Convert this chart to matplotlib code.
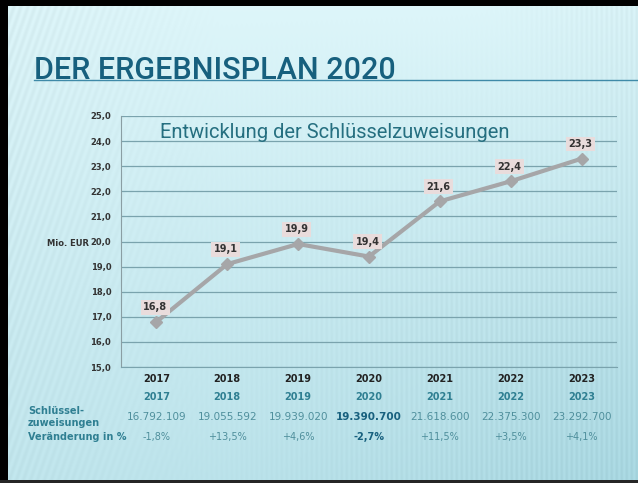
import matplotlib.pyplot as plt
import matplotlib.transforms as mtransforms
import numpy as np

# Schlüsselzuweisungen, Mio. EUR
years = ['2017', '2018', '2019', '2020', '2021', '2022', '2023']
values_mio = [16.8, 19.1, 19.9, 19.4, 21.6, 22.4, 23.3]
values_eur = ['16.792.109', '19.055.592', '19.939.020', '19.390.700',
              '21.618.600', '22.375.300', '23.292.700']
changes = ['-1,8%', '+13,5%', '+4,6%', '-2,7%', '+11,5%', '+3,5%', '+4,1%']
y_ticks = [15, 16, 17, 18, 19, 20, 21, 22, 23, 24, 25]
highlight = '2020'

W, H = 638, 483
TEAL = '#17607e'
TEXT_TEAL = '#2f7f92'
NUM_TEAL = '#4f8f9c'


def fx(px):
    return px / W


def fy(py):
    return 1 - py / H


def background():
    yy, xx = np.mgrid[0:H, 0:W]
    u = xx / W
    v = yy / H
    base = np.array([0.87, 0.965, 0.98])
    dark = np.array([0.66, 0.85, 0.89])
    t = np.clip(0.5 * v + 0.4 * u * v + 0.15 * np.clip(u - 0.7, 0, 1), 0, 1)
    img = base[None, None, :] * (1 - t[..., None]) + dark[None, None, :] * t[..., None]
    # diagonal stripes on the left, vertical stripes on the right
    diag = 0.5 + 0.5 * np.sin((xx + 0.35 * yy) * 2 * np.pi / 7)
    wl = np.clip(1 - u / 0.35, 0, 1) * np.clip(1 - v * 0.3, 0, 1)
    vert = 0.5 + 0.5 * np.sin(xx * 2 * np.pi / 5)
    wr = np.clip((u - 0.2) / 0.6, 0, 1) * np.clip(v * 1.5, 0, 1)
    wr = np.maximum(wr, np.clip((u - 0.75) / 0.25, 0, 1) * 0.9)
    img = img - 0.04 * (diag * wl)[..., None] - 0.035 * (vert * wr)[..., None]
    # frame
    img[:6, :] = 0
    img[:, :8] = 0
    img[-3:, :] = 0.15
    return np.clip(img, 0, 1)


fig = plt.figure(figsize=(W / 100, H / 100), dpi=100)
bg = fig.add_axes([0, 0, 1, 1])
bg.imshow(background(), aspect='auto', extent=[0, 1, 0, 1], interpolation='bilinear')
bg.set_axis_off()

# headline and rule underneath
fig.text(fx(34), fy(79), 'DER ERGEBNISPLAN 2020', family='Roboto', fontweight='medium',
         fontsize=22, color=TEAL, va='baseline', ha='left')
fig.add_artist(plt.Line2D([fx(34), 1], [fy(79.5), fy(79.5)], color='#3f8aa8', lw=1))

ax = fig.add_axes([fx(121), fy(367), fx(617) - fx(121), fy(116) - fy(367)])
ax.patch.set_alpha(0)
x = np.arange(len(years))

ax.set_xlim(-0.5, len(years) - 0.5)
ax.set_ylim(15, 25)
ax.set_yticks(y_ticks)
ax.set_yticklabels([f'{t:.1f}'.replace('.', ',') for t in y_ticks],
                   fontsize=6, fontweight='bold', color='#333333')
ax.yaxis.grid(True, color='#7aa3ad', lw=0.9)
ax.set_axisbelow(True)
ax.tick_params(axis='y', length=0, pad=7)
ax.tick_params(axis='x', length=0, pad=5)
ax.set_xticks(x)
ax.set_xticklabels(years, fontsize=7, fontweight='bold', color='#222222')
for side in ['top', 'right']:
    ax.spines[side].set_visible(False)
ax.spines['left'].set_color('#8a9ea3')
ax.spines['bottom'].set_color('#7aa3ad')

ax.plot(x, values_mio, color='#a6a6a8', lw=3, marker='D', ms=6,
        markerfacecolor='#a6a6a8', markeredgecolor='#a6a6a8', zorder=3)
for xi, v in zip(x, values_mio):
    ax.annotate(f'{v:.1f}'.replace('.', ','), (xi, v), xytext=(-1, 7),
                textcoords='offset points', ha='center', va='bottom',
                fontsize=7, fontweight='bold', color='#333333',
                bbox=dict(boxstyle='square,pad=0.25', fc='#e9dcdc', ec='none'))

ax.text(0.079, 0.936, 'Entwicklung der Schlüsselzuweisungen', transform=ax.transAxes,
        family='Roboto', fontsize=14.5, color='#256f80', ha='left', va='center')

fig.text(fx(89), fy(244), 'Mio. EUR', fontsize=6, fontweight='bold',
         color='#333333', ha='right', va='center')

# table below the chart
tr = mtransforms.blended_transform_factory(ax.transData, fig.transFigure)
for xi, yr, val, ch in zip(x, years, values_eur, changes):
    bold = 'bold' if yr == highlight else 'normal'
    ax.text(xi, fy(397), yr, transform=tr, ha='center', va='center',
            fontsize=7, fontweight='bold', color=TEXT_TEAL)
    ax.text(xi, fy(417), val, transform=tr, ha='center', va='center',
            fontsize=7.5, fontweight=bold,
            color=TEAL if yr == highlight else NUM_TEAL)
    ax.text(xi, fy(437), ch, transform=tr, ha='center', va='center',
            fontsize=7, fontweight=bold,
            color=TEAL if yr == highlight else NUM_TEAL)

fig.text(fx(28), fy(417), 'Schlüssel-\nzuweisungen', fontsize=7, fontweight='bold',
         color=TEXT_TEAL, ha='left', va='center', linespacing=1.3)
fig.text(fx(28), fy(437), 'Veränderung in %', fontsize=7, fontweight='bold',
         color=TEXT_TEAL, ha='left', va='center')

fig.savefig('out.png', dpi=100)
